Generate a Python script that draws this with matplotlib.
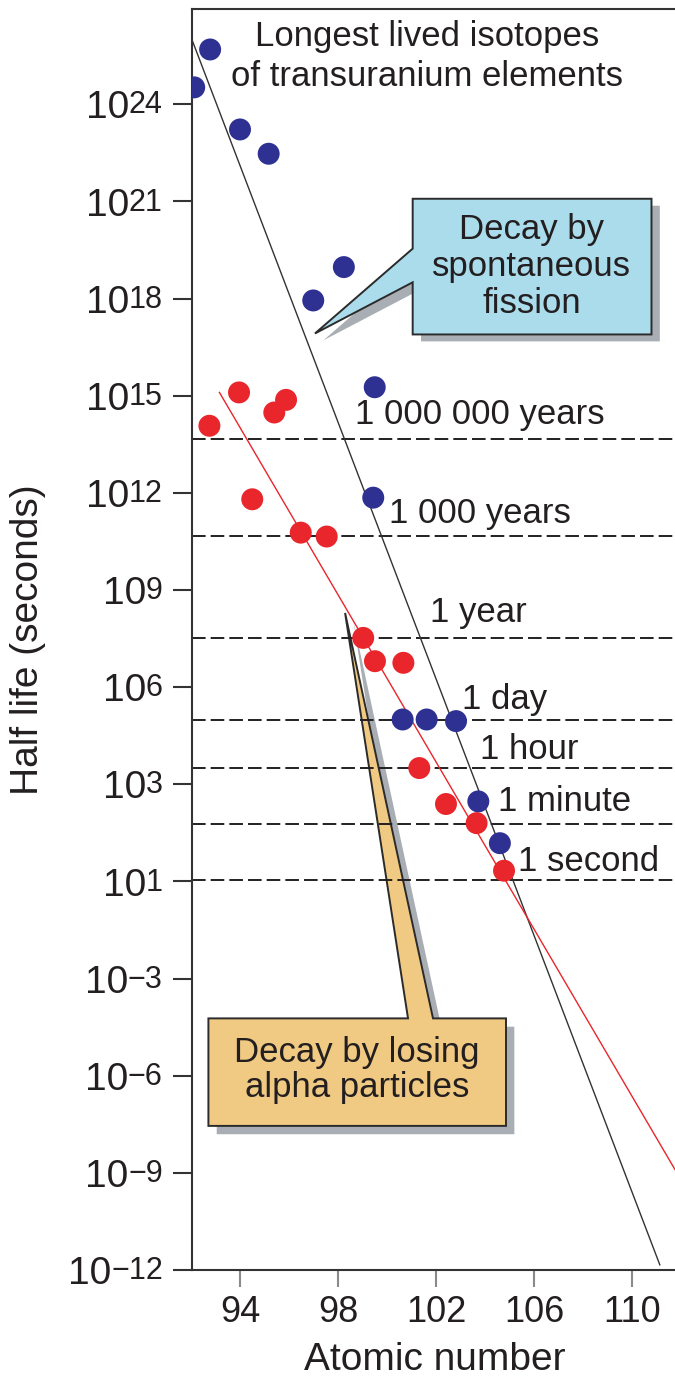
import numpy as np
import matplotlib
matplotlib.use("Agg")
import matplotlib.pyplot as plt
from matplotlib.patches import Polygon
from matplotlib.offsetbox import TextArea, HPacker, AnnotationBbox
import matplotlib.patheffects as pe

plt.rcParams['font.family'] = ['Liberation Sans', 'DejaVu Sans']

# Spontaneous fission (blue dots): atomic number, log10 half life (s)
fission_z = [92.13, 92.78, 94.0, 95.17, 96.99, 98.24, 99.5, 99.44,
             100.64, 101.62, 102.82, 103.73, 104.61]
fission_log_t = [24.52, 25.69, 23.22, 22.47, 17.94, 18.97, 15.26, 11.85,
                 5.0, 5.0, 4.95, 2.47, 1.18]

# Alpha decay (red dots)
alpha_z = [92.75, 93.96, 95.4, 95.88, 94.5, 96.48, 97.54, 99.03, 99.51,
           100.67, 101.32, 102.41, 103.66, 104.78]
alpha_log_t = [14.07, 15.1, 14.48, 14.87, 11.8, 10.77, 10.65, 7.52, 6.8,
               6.75, 3.5, 2.39, 1.8, 0.33]

# Trend lines (end points)
fission_fit_z = [92.07, 111.14]
fission_fit_log_t = [25.93, -11.84]
alpha_fit_z = [93.16, 111.76]
alpha_fit_log_t = [15.1, -8.9]

# Reference times (dashed lines)
ref_labels = ['1 000 000 years', '1 000 years', '1 year', '1 day',
              '1 hour', '1 minute', '1 second']
ref_log_t = [13.66, 10.67, 7.52, 4.98, 3.5, 1.77, 0.05]

# Axis ticks
x_ticks = [94, 98, 102, 106, 110]
y_tick_exp = [24, 21, 18, 15, 12, 9, 6, 3, 0, -3, -6, -9, -12]
y_tick_labels = ['24', '21', '18', '15', '12', '9', '6', '3', '1',
                 '\u22123', '\u22126', '\u22129', '\u221212']

BLUE = '#2e3192'
RED = '#e8262b'
INK = '#231f20'

W, H = 675, 1388
fig = plt.figure(figsize=(W / 100, H / 100), dpi=100)
ax = fig.add_axes([192 / W, 118 / H, 483 / W, 1261 / H])
ax.set_yscale('log')
ax.set_xlim(92.04, 111.76)
ax.set_ylim(10.0 ** -12, 10.0 ** 26.94)

# dashed reference lines with labels
label_z = [98.69, 100.08, 101.76, 103.05, 103.8, 104.53, 105.35]
label_log = [14.13, 11.08, 8.01, 5.32, 3.77, 2.16, 0.31]
for t in ref_log_t:
    ax.axhline(10.0 ** t, color=INK, lw=1.4, ls=(0, (7, 2.6)), zorder=2)
for lab, z, lt in zip(ref_labels, label_z, label_log):
    ax.text(z, 10.0 ** lt, lab, fontsize=25, color=INK, ha='left',
            va='baseline', zorder=4)

# trend lines
ax.plot(fission_fit_z, 10.0 ** np.array(fission_fit_log_t), color='#333333',
        lw=1.0, zorder=2.5)
ax.plot(alpha_fit_z, 10.0 ** np.array(alpha_fit_log_t), color=RED,
        lw=1.0, zorder=2.5)

# dots
ax.scatter(fission_z, 10.0 ** np.array(fission_log_t), s=250, color=BLUE,
           edgecolors='none', zorder=3)
ax.scatter(alpha_z, 10.0 ** np.array(alpha_log_t), s=250, color=RED,
           edgecolors='none', zorder=3)


def callout(verts, face, shadow_offset):
    pts = [(x, 10.0 ** y) for x, y in verts]
    poly = Polygon(pts, closed=True, facecolor=face, edgecolor='#2b2b2b',
                   lw=1.4, zorder=1.5, joinstyle='miter')
    poly.set_path_effects([
        pe.SimplePatchShadow(offset=shadow_offset, shadow_rgbFace='#a9adb4',
                             alpha=1.0),
        pe.Normal()])
    ax.add_patch(poly)


# spontaneous fission callout (box with wedge on its left side)
callout([(101.05, 21.08), (110.80, 21.08), (110.80, 16.89), (101.05, 16.89),
         (101.05, 18.50), (97.06, 16.92), (101.05, 19.54)],
        '#abdcec', (6, -5))
ax.text(105.92, 10.0 ** 18.99, 'Decay by\nspontaneous\nfission', fontsize=25,
        color=INK, ha='center', va='center', linespacing=1.15, zorder=4)

# alpha callout (box with wedge on its top side)
callout([(92.71, -4.23), (100.86, -4.23), (98.29, 8.29), (101.88, -4.23),
         (104.86, -4.23), (104.86, -7.55), (92.71, -7.55)],
        '#f0c982', (6, -6))
ax.text(98.78, 10.0 ** -5.82, 'Decay by losing\nalpha particles', fontsize=25,
        color=INK, ha='center', va='center', linespacing=1.1, zorder=4)

# title inside the plot
ax.text(101.63, 10.0 ** 25.48, 'Longest lived isotopes\nof transuranium elements',
        fontsize=25, color=INK, ha='center', va='center', linespacing=1.25,
        zorder=4)

# axes styling
for side in ['left', 'bottom', 'top']:
    ax.spines[side].set_color('#333333')
    ax.spines[side].set_linewidth(1.5)
ax.spines['right'].set_visible(False)

ax.set_xticks(x_ticks)
ax.set_xticklabels([str(v) for v in x_ticks])
ax.set_yticks([10.0 ** e for e in y_tick_exp])
ax.set_yticklabels([])
ax.yaxis.set_minor_locator(matplotlib.ticker.NullLocator())
ax.tick_params(axis='y', length=13.5, width=1.5, color='#333333')
ax.tick_params(axis='x', length=12, width=1.5, pad=6, labelsize=26,
               color='#8a8a8a', labelcolor=INK)

# y tick labels: "10" with a large, slightly raised exponent
for e, sup in zip(y_tick_exp, y_tick_labels):
    base = TextArea('10', textprops=dict(fontsize=28, color=INK))
    expo = TextArea(sup, textprops=dict(fontsize=22, color=INK))
    box = HPacker(children=[base, expo], align='top', pad=0, sep=0)
    ab = AnnotationBbox(box, (0, 10.0 ** e), xycoords=('axes fraction', 'data'),
                        xybox=(-21, -3), boxcoords='offset points',
                        box_alignment=(1, 0.5), frameon=False, pad=0)
    ax.add_artist(ab)

fig.text(28 / W, 1 - 640 / H, 'Half life (seconds)', rotation=90, fontsize=28,
         color=INK, ha='center', va='center')
fig.text(435 / W, 1 - 1360 / H, 'Atomic number', fontsize=28, color=INK,
         ha='center', va='center')

fig.savefig('out.png', dpi=100)
